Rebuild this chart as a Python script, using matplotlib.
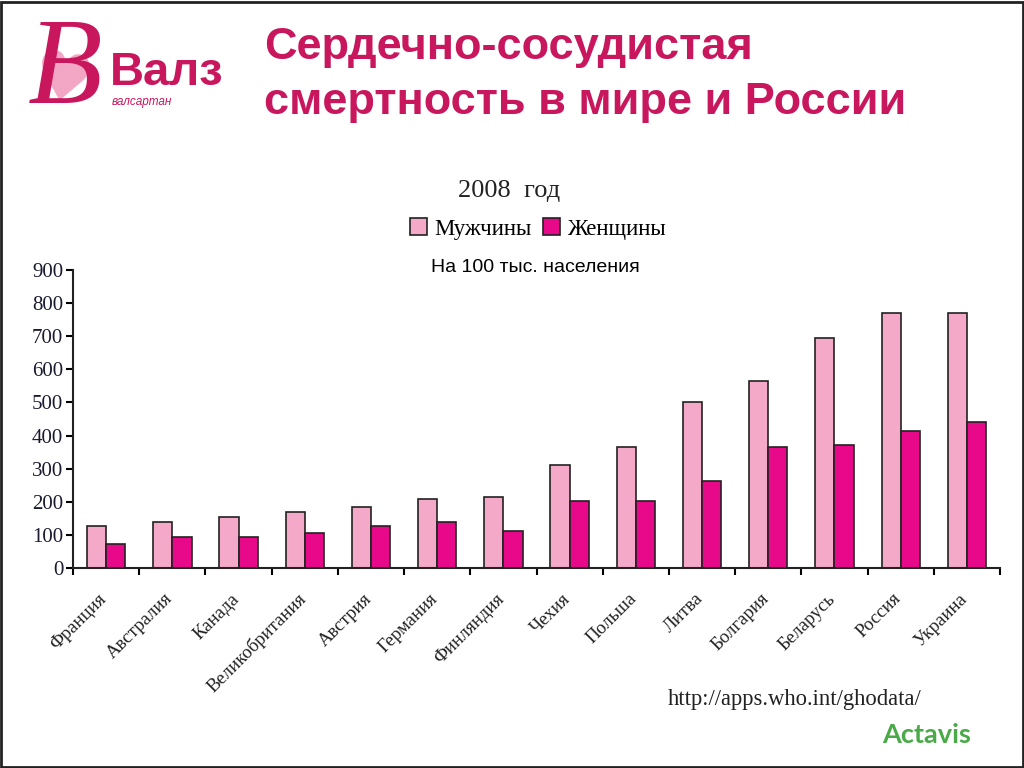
import numpy as np
import matplotlib.pyplot as plt
from matplotlib.patches import Rectangle

# ----- DATA -----
countries = ["Франция", "Австралия", "Канада", "Великобритания", "Австрия",
             "Германия", "Финляндия", "Чехия", "Польша", "Литва",
             "Болгария", "Беларусь", "Россия", "Украина"]
men = [127, 139, 154, 169, 184, 208, 214, 311, 365, 501, 565, 695, 770, 770]
women = [72, 94, 94, 106, 127, 139, 112, 202, 202, 263, 365, 372, 414, 441]
y_ticks = [0, 100, 200, 300, 400, 500, 600, 700, 800, 900]
# ----------------

MAGENTA = "#c8175d"
PINK = "#f4a9c8"
FEM = "#e8098a"

fig = plt.figure(figsize=(10.24, 7.68), dpi=100)
fig.patch.set_facecolor("white")

# slide frame
fig.add_artist(Rectangle((0.001, 0.001), 0.998, 0.997, transform=fig.transFigure,
                         fill=False, edgecolor="#222222", linewidth=2))

# logo
fig.text(0.060, 0.893, "\u2665", fontsize=48, color="#f2a6c4",
         family="DejaVu Sans", ha="center", va="center", rotation=-10)
fig.text(0.064, 0.905, "B", fontsize=88, color=MAGENTA, style="italic",
         family="Liberation Serif", ha="center", va="center")
fig.text(0.107, 0.905, "Валз", fontsize=34, color=MAGENTA, weight="bold",
         family="Liberation Sans", ha="left", va="center")
fig.text(0.109, 0.867, "валсартан", fontsize=8.5, color=MAGENTA, style="italic",
         family="Liberation Sans", ha="left", va="center")

# slide title
fig.text(0.258, 0.938, "Сердечно-сосудистая", fontsize=32.5, color=MAGENTA,
         weight="bold", family="Liberation Sans", ha="left", va="center")
fig.text(0.258, 0.867, "смертность в мире и России", fontsize=32.5, color=MAGENTA,
         weight="bold", family="Liberation Sans", ha="left", va="center")

ax = fig.add_axes([0.0713, 0.2604, 0.9053, 0.388])
x = np.arange(len(countries))
w = 0.29
ax.bar(x - w / 2, men, w, color=PINK, edgecolor="#222222", linewidth=1.2,
       label="Мужчины")
ax.bar(x + w / 2, women, w, color=FEM, edgecolor="#222222", linewidth=1.2,
       label="Женщины")

ax.set_xlim(-0.5, len(countries) - 0.5)
ax.set_ylim(0, 900)
ax.set_yticks(y_ticks)
ax.set_yticklabels([str(v) for v in y_ticks], family="Liberation Serif",
                   fontsize=15, color="#1a1a2e")
ax.set_xticks(np.arange(len(countries) + 1) - 0.5)
ax.set_xticklabels([])
ax.set_xticks(x - 0.12, minor=True)
ax.set_xticklabels(countries, minor=True, rotation=45, ha="right", va="top",
                   rotation_mode="anchor", family="Liberation Serif",
                   fontsize=13.5, color="#222222")
ax.tick_params(axis="x", which="minor", length=0, pad=16)
ax.tick_params(axis="x", which="major", length=5, width=1.5, direction="out")
ax.tick_params(axis="y", length=5, width=1.5, direction="out", pad=2)
for s in ["top", "right"]:
    ax.spines[s].set_visible(False)
for s in ["left", "bottom"]:
    ax.spines[s].set_linewidth(1.5)
    ax.spines[s].set_color("#222222")

# chart title, legend, subtitle
fig.text(0.497, 0.751, "2008  год", fontsize=19, family="Liberation Serif",
         ha="center", va="center", color="#222222")
leg = fig.legend(loc="center", bbox_to_anchor=(0.525, 0.702), ncol=2,
                 frameon=False, prop={"family": "Liberation Serif", "size": 16.5},
                 handlelength=0.75, handleheight=0.75, handletextpad=0.3,
                 columnspacing=0.5)
fig.text(0.523, 0.652, "На 100 тыс. населения", fontsize=14,
         family="Liberation Sans", ha="center", va="center", color="black")

fig.text(0.652, 0.089, "http://apps.who.int/ghodata/", fontsize=16.3,
         family="Liberation Serif", ha="left", va="center", color="#222222")
fig.text(0.948, 0.043, "Actavis", fontsize=19.5, weight="bold", family="Lato",
         ha="right", va="center", color="#4aaa48")

fig.savefig("out.png", dpi=100, facecolor="white")
